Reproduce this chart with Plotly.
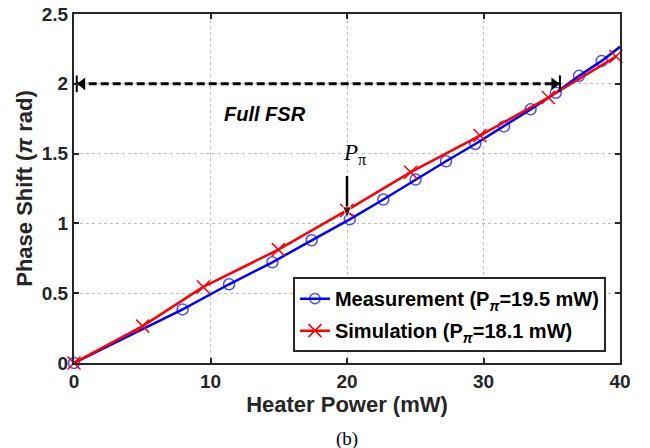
import plotly.graph_objects as go

# Measurement data (Heater power in mW, phase shift in pi rad)
meas_x = [0, 7.96, 11.36, 14.53, 17.41, 20.2, 22.66, 25.03, 27.25, 29.4, 31.5, 33.45, 35.3, 37.0, 38.66, 40.0]
meas_y = [0, 0.384, 0.564, 0.721, 0.879, 1.029, 1.171, 1.314, 1.445, 1.569, 1.695, 1.817, 1.936, 2.057, 2.164, 2.265]
meas_marker_size = [11] * 15 + [0]

# Simulation data
sim_x = [0, 5.03, 9.47, 14.97, 19.98, 24.67, 29.74, 34.75, 39.7]
sim_y = [0, 0.264, 0.545, 0.812, 1.093, 1.367, 1.629, 1.902, 2.195]

# FSR arrow (dashed double arrow)
fsr_x = [0.2, 35.6]
fsr_y = [2, 2]
head_half = 0.42  # half arrowhead length in mW units

# P_pi arrow (start, tip)
ppi_x = [20, 20]
ppi_y = [1.34, 1.03]

xticks = [0, 10, 20, 30, 40]
yticks = [0, 0.5, 1, 1.5, 2, 2.5]
ytick_text = ["0", "0.5", "1", "1.5", "2", "2.5"]

AX = "#262626"
SANS = "Liberation Sans, Arial, Helvetica, sans-serif"
SERIF = "Liberation Serif, Times New Roman, serif"

fig = go.Figure()

fig.add_trace(go.Scatter(
    x=meas_x, y=meas_y, mode="lines+markers",
    name="Measurement (P<sub><i>π</i></sub>=19.5 mW)",
    line=dict(color="#0000ff", width=2.5),
    marker=dict(symbol="circle-open", size=meas_marker_size, color="#0000ff", line=dict(width=1.5, color="#0000ff")),
    cliponaxis=False, legendgroup="a",
))
fig.add_trace(go.Scatter(
    x=sim_x, y=sim_y, mode="lines+markers",
    name="Simulation (P<sub><i>π</i></sub>=18.1 mW)",
    line=dict(color="#ff0000", width=2.5),
    marker=dict(symbol="x-thin-open", size=13, color="#ff0000", line=dict(width=1.5, color="#ff0000")),
    cliponaxis=False, legendgroup="b",
))

# dashed FSR line
fig.add_trace(go.Scatter(
    x=fsr_x, y=fsr_y, mode="lines",
    line=dict(color="black", width=3, dash="8px,4px"),
    showlegend=False, hoverinfo="skip",
))
# end bars
fig.add_trace(go.Scatter(
    x=fsr_x, y=fsr_y, mode="markers",
    marker=dict(symbol="line-ns-open", size=12, color="black", line=dict(width=2, color="black")),
    showlegend=False, hoverinfo="skip", cliponaxis=False,
))
# arrowheads at both ends
fig.add_trace(go.Scatter(
    x=[fsr_x[0] + head_half, fsr_x[1] - head_half], y=fsr_y, mode="markers",
    marker=dict(symbol=["triangle-left", "triangle-right"], size=11, color="black", line=dict(width=0)),
    showlegend=False, hoverinfo="skip", cliponaxis=False,
))

# P_pi arrow
fig.add_trace(go.Scatter(
    x=ppi_x, y=ppi_y, mode="lines+markers",
    line=dict(color="black", width=2.5),
    marker=dict(symbol=["circle", "arrow"], size=[0, 13], angleref="previous", color="black"),
    showlegend=False, hoverinfo="skip", cliponaxis=False,
))

# Full FSR label
fig.add_annotation(x=13.96, y=1.787, text="<b><i>Full FSR</i></b>", showarrow=False,
                   font=dict(family=SANS, size=20, color="black"))

# P_pi label
fig.add_annotation(x=20.55, y=1.50, text="<i>P</i><sub>π</sub>", showarrow=False,
                   font=dict(family=SERIF, size=23, color="black"))

# (b)
fig.add_annotation(x=0.5, y=-0.218, xref="paper", yref="paper", text="(b)", showarrow=False,
                   font=dict(family=SERIF, size=19, color="black"), yanchor="middle")

fig.update_xaxes(
    range=[0, 40], tickvals=xticks, ticks="inside", ticklen=5, tickwidth=1.5, tickcolor=AX,
    showline=True, linecolor=AX, linewidth=2, mirror="ticks",
    showgrid=True, gridcolor="#bdbdbd", griddash="dot", gridwidth=1, zeroline=False,
    tickfont=dict(family=SANS, size=19, color=AX, weight="bold"),
    title=dict(text="Heater Power (mW)", font=dict(family=SANS, size=22, color=AX, weight="bold"), standoff=5),
)
fig.update_yaxes(
    range=[0, 2.5], tickvals=yticks, ticktext=ytick_text, ticks="inside", ticklen=5, tickwidth=1.5, tickcolor=AX,
    showline=True, linecolor=AX, linewidth=2, mirror="ticks",
    showgrid=True, gridcolor="#bdbdbd", griddash="dot", gridwidth=1, zeroline=False,
    tickfont=dict(family=SANS, size=19, color=AX, weight="bold"),
    title=dict(text="Phase Shift (<i>π</i> rad)", font=dict(family=SANS, size=22, color=AX, weight="bold"), standoff=3),
)

fig.update_layout(
    width=650, height=448,
    margin=dict(l=74, r=30, t=14, b=85, autoexpand=False),
    plot_bgcolor="white", paper_bgcolor="white",
    legend=dict(x=0.401, y=0.246, xanchor="left", yanchor="top",
                bgcolor="white", bordercolor=AX, borderwidth=2,
                font=dict(family=SANS, size=20, color="black", weight="bold"),
                tracegroupgap=3, itemwidth=30),
    showlegend=True,
)

fig.write_html("out.html")
